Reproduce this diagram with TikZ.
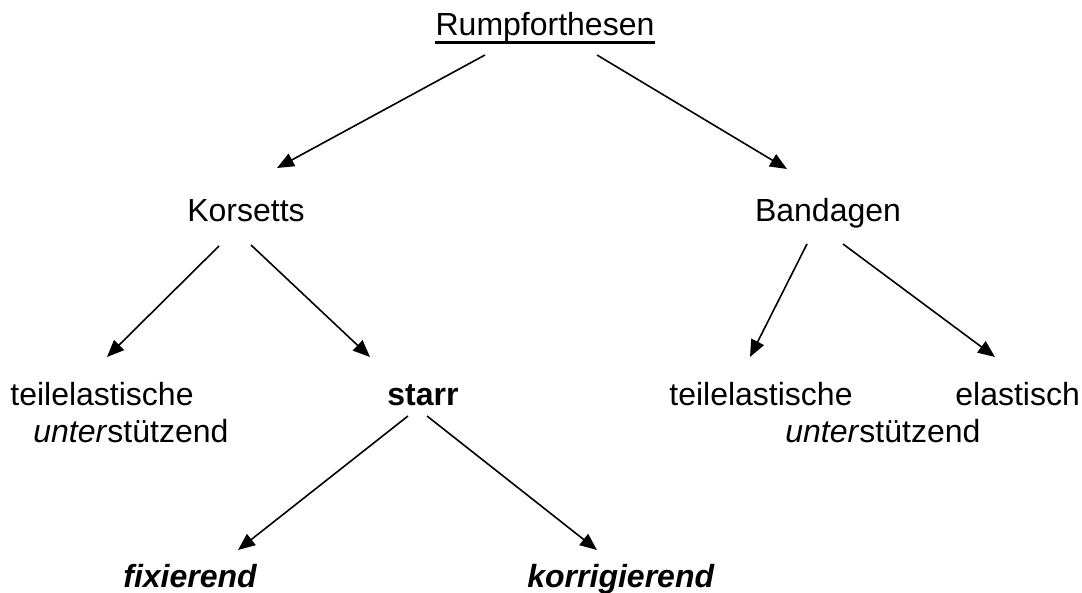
\documentclass[tikz,border=0pt]{standalone}
\usepackage{fontspec}
\setmainfont{Liberation Sans}
\usetikzlibrary{arrows.meta}
\begin{document}
\begin{tikzpicture}[x=0.5pt,y=-0.5pt,
  lbl/.style={inner sep=0pt,font=\fontsize{16}{19}\selectfont},
  arr/.style={line width=0.8pt,-{Triangle[length=8.5pt,width=7pt]}}]
\useasboundingbox (0,0) rectangle (1082,593);
% nodes
\node[lbl,anchor=base] (R) at (545,36) {Rumpforthesen};
\draw[line width=1.5pt] ([yshift=-3.5pt]R.base west) -- ([yshift=-3.5pt]R.base east);
\node[lbl,anchor=base] (K) at (246,222) {Korsetts};
\node[lbl,anchor=base] (B) at (828,222) {Bandagen};
\node[lbl,anchor=base west] (TL) at (10,405) {teilelastische};
\node[lbl,anchor=base west] (TLu) at (33,442) {\textit{unter}stützend};
\node[lbl,anchor=base] (S) at (423,405) {\textbf{starr}};
\node[lbl,anchor=base west] (TR) at (669,405) {teilelastische};
\node[lbl,anchor=base west] (TRu) at (785,442) {\textit{unter}stützend};
\node[lbl,anchor=base west] (E) at (955,405) {elastisch};
\node[lbl,anchor=base west] (F) at (123,587) {\textbf{\textit{fixierend}}};
\node[lbl,anchor=base west] (KO) at (527,587) {\textbf{\textit{korrigierend}}};
% connectors
\draw[arr] ([shift={(-60,19)}]R.base) -- ([shift={(31,-54)}]K.base);
\draw[arr] ([shift={(52,19)}]R.base) -- ([shift={(-41,-53)}]B.base);
\draw[arr] ([shift={(-27,24)}]K.base) -- ([shift={(97,-48)}]TL.base west);
\draw[arr] ([shift={(5,23)}]K.base) -- ([shift={(-53,-48)}]S.base);
\draw[arr] ([shift={(-21,22)}]B.base) -- ([shift={(81,-48)}]TR.base west);
\draw[arr] ([shift={(15,22)}]B.base) -- ([shift={(40,-48)}]E.base west);
\draw[arr] ([shift={(-15,11)}]S.base) -- ([shift={(115,-37)}]F.base west);
\draw[arr] ([shift={(4,11)}]S.base) -- ([shift={(70,-37)}]KO.base west);
\end{tikzpicture}
\end{document}
